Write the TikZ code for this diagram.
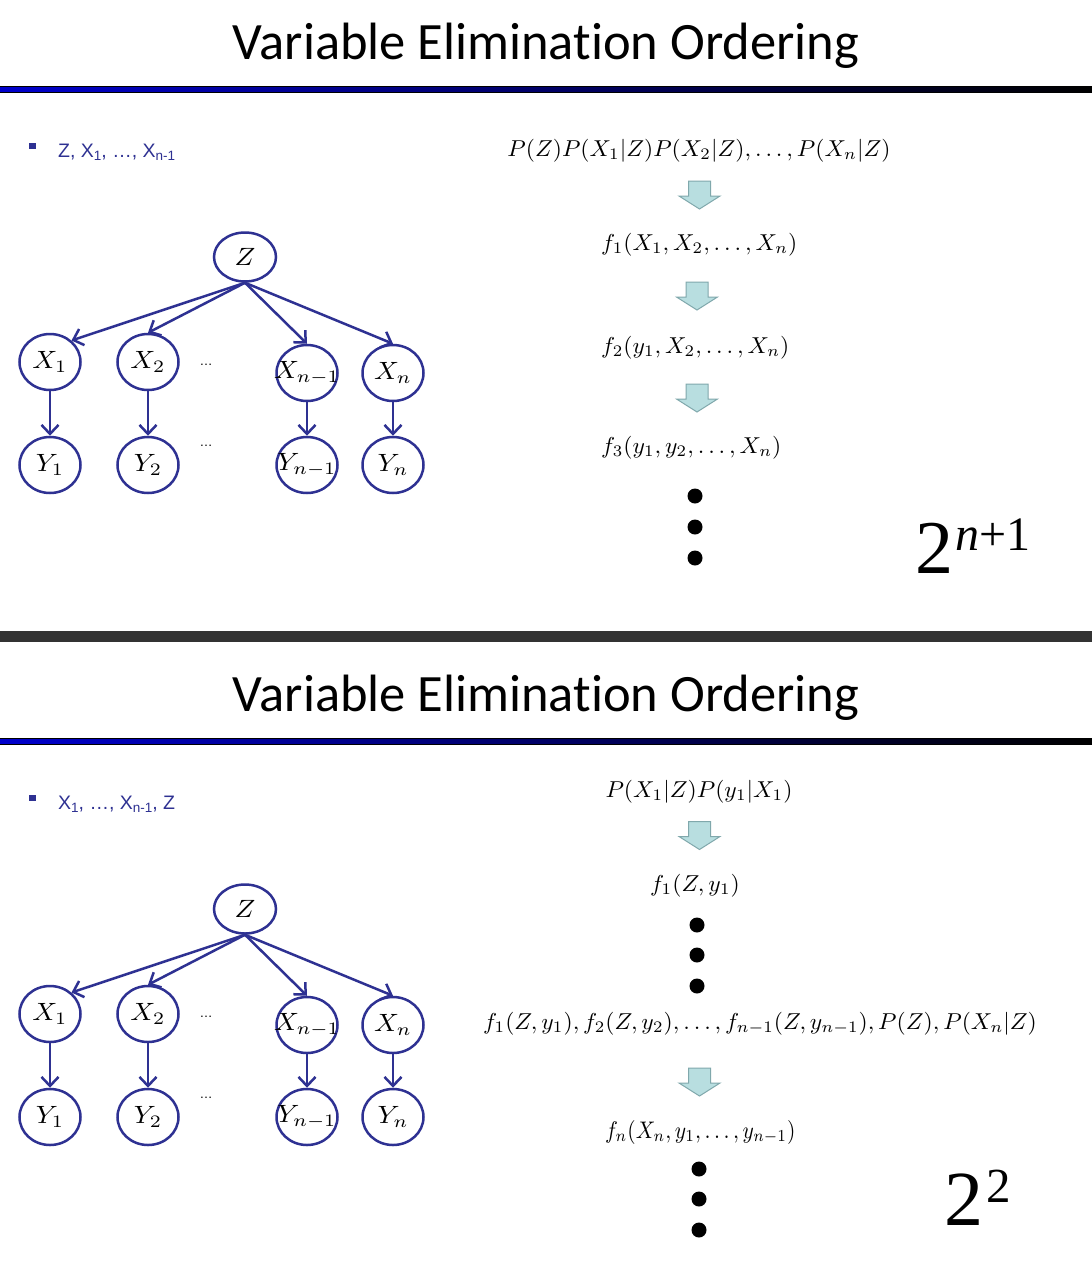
\documentclass[tikz,border=0pt]{standalone}
\usepackage{graphicx}
\usepackage{fontspec}
\newfontfamily\titlef[Ligatures=NoCommon]{Carlito}
\newfontfamily\bulf{Liberation Sans}
\newfontfamily\timesf{Liberation Serif}
\usetikzlibrary{arrows.meta,shapes.geometric}
\definecolor{navy}{RGB}{46,49,146}
\definecolor{barblue}{RGB}{0,0,204}
\definecolor{grayb}{RGB}{51,51,51}
\definecolor{arrfill}{RGB}{184,222,224}
\definecolor{arrdraw}{RGB}{128,168,172}
\newcommand\lowsub[1]{\raisebox{-3pt}{\fontsize{13.5}{14}\selectfont #1}}
\newcommand\fm[1]{\scalebox{2.36}[2.3]{$#1$}}
\newcommand\gm[1]{\makebox[0pt]{\scalebox{2.75}[2.5]{$#1$}}}
\tikzset{
  gnode/.style={ellipse, draw=navy, line width=2.5pt, minimum width=61pt, minimum height=56pt, inner sep=0pt, font=\fontsize{10}{12}\selectfont},
  garrow/.style={draw=navy, line width=2.5pt, -{Straight Barb[length=9pt,width=17pt]}},
  titletext/.style={font=\titlef\fontsize{52.5}{60}\selectfont, anchor=base, inner sep=0pt},
  bullettext/.style={font=\bulf\fontsize{19.5}{20}\selectfont, text=navy, anchor=base west, inner sep=0pt},
  bulletsq/.style={fill=navy, minimum width=7pt, minimum height=6.5pt, inner sep=0pt},
  formula/.style={font=\fontsize{10}{12}\selectfont, inner sep=0pt},
  dotnode/.style={circle, fill=black, minimum size=15pt, inner sep=0pt},
  smalldots/.style={font=\bulf\fontsize{13}{13}\selectfont, inner sep=0pt},
  blockarrow/.pic={\path[fill=arrfill, draw=arrdraw, line width=1pt] (-11,-14) -- (11,-14) -- (11,1) -- (20.5,1) -- (0,14) -- (-20.5,1) -- (-11,1) -- cycle;}
}
\newcommand\header[2]{%
  \begin{scope}[shift={(0,#2)}]
    \node[titletext] (#1title) at (546,59) {Variable Elimination Ordering};
    \shade[left color=barblue, right color=black] (0,86.5) rectangle (1092,92.5);
    \draw[black, line width=1.2pt] (0,86.5) -- (1092,86.5) (0,92.5) -- (1092,92.5);
  \end{scope}}
\newcommand\bngraph[2]{%
  \begin{scope}[shift={(0,#2)}]
    \node[gnode, minimum height=49pt, minimum width=62pt] (#1Z) at (245,257) {\gm{Z}};
    \node[gnode] (#1X1) at (50,362) {\gm{X_1}};
    \node[gnode] (#1X2) at (148,362) {\gm{X_2}};
    \node[gnode] (#1Xm) at (307,373) {\raisebox{-5pt}{\gm{X_{n-1}}}};
    \node[gnode] (#1Xn) at (393,373) {\gm{X_n}};
    \node[gnode] (#1Y1) at (50,465) {\gm{Y_1}};
    \node[gnode] (#1Y2) at (148,465) {\gm{Y_2}};
    \node[gnode] (#1Ym) at (307,465) {\gm{Y_{n-1}}};
    \node[gnode] (#1Yn) at (393,465) {\gm{Y_n}};
    \node[smalldots] (#1d1) at (206,365) {…};
    \node[smalldots] (#1d2) at (206,446) {…};
    \draw[garrow] (#1Z.south) -- (#1X1.45);
    \draw[garrow] (#1Z.south) -- (#1X2.north);
    \draw[garrow] (#1Z.south) -- (#1Xm.north);
    \draw[garrow] (#1Z.south) -- (#1Xn.north);
    \draw[garrow] (#1X1) -- (#1Y1);
    \draw[garrow] (#1X2) -- (#1Y2);
    \draw[garrow] (#1Xm) -- (#1Ym);
    \draw[garrow] (#1Xn) -- (#1Yn);
  \end{scope}}
\begin{document}
\begin{tikzpicture}[x=1pt,y=-1pt]
\useasboundingbox[fill=white] (0,0) rectangle (1092,1270);
% top slide
\header{a}{0}
\node[bulletsq] (asq) at (32.5,146) {};
\node[bullettext] (abul) at (58,157.5) {Z, X\lowsub{1}, …, X\lowsub{n-1}};
\bngraph{a}{0}
\node[formula, anchor=base] (f0) at (699,156) {\fm{P(Z)P(X_1|Z)P(X_2|Z),\ldots,P(X_n|Z)}};
\pic at (699.5,195) {blockarrow};
\node[formula, anchor=base west] (f1) at (601,250) {\fm{f_1(X_1,X_2,\ldots,X_n)}};
\pic at (697,296) {blockarrow};
\node[formula, anchor=base west] (f2) at (601,353) {\fm{f_2(y_1,X_2,\ldots,X_n)}};
\pic at (697,398) {blockarrow};
\node[formula, anchor=base west] (f3) at (601,453) {\fm{f_3(y_1,y_2,\ldots,X_n)}};
\node[dotnode] (ad1) at (695,496) {};
\node[dotnode] (ad2) at (695,527) {};
\node[dotnode] (ad3) at (695,558) {};
\node[anchor=base west, inner sep=0pt, font=\timesf\fontsize{76}{80}\selectfont] (acost) at (915,573) {2\kern2pt\raisebox{23pt}{\fontsize{48}{48}\selectfont\itshape n\upshape+1}};
% divider
\fill[grayb] (0,631) rectangle (1092,642);
% bottom slide
\header{b}{652}
\node[bulletsq] (bsq) at (32.5,798) {};
\node[bullettext] (bbul) at (58,809.5) {X\lowsub{1}, …, X\lowsub{n-1}, Z};
\bngraph{b}{652}
\node[formula, anchor=base] (g0) at (699,797) {\fm{P(X_1|Z)P(y_1|X_1)}};
\pic at (699.5,835.5) {blockarrow};
\node[formula, anchor=base] (g1) at (695,891) {\fm{f_1(Z,y_1)}};
\node[dotnode] (bd1) at (697,925) {};
\node[dotnode] (bd2) at (697,955) {};
\node[dotnode] (bd3) at (697,986) {};
\node[formula, anchor=base] (g2) at (760,1029) {\fm{f_1(Z,y_1),f_2(Z,y_2),\ldots,f_{n-1}(Z,y_{n-1}),P(Z),P(X_n|Z)}};
\pic at (699.5,1082) {blockarrow};
\node[formula, anchor=base west] (g3) at (605,1138) {\scalebox{2.15}[2.4]{$f_n(X_n,y_1,\ldots,y_{n-1})$}};
\node[dotnode] (bd4) at (699,1169) {};
\node[dotnode] (bd5) at (699,1199) {};
\node[dotnode] (bd6) at (699,1230) {};
\node[anchor=base west, inner sep=0pt, font=\timesf\fontsize{78}{80}\selectfont] (bcost) at (944,1225) {2\kern3pt\raisebox{23pt}{\fontsize{49}{49}\selectfont 2}};
\end{tikzpicture}
\end{document}
